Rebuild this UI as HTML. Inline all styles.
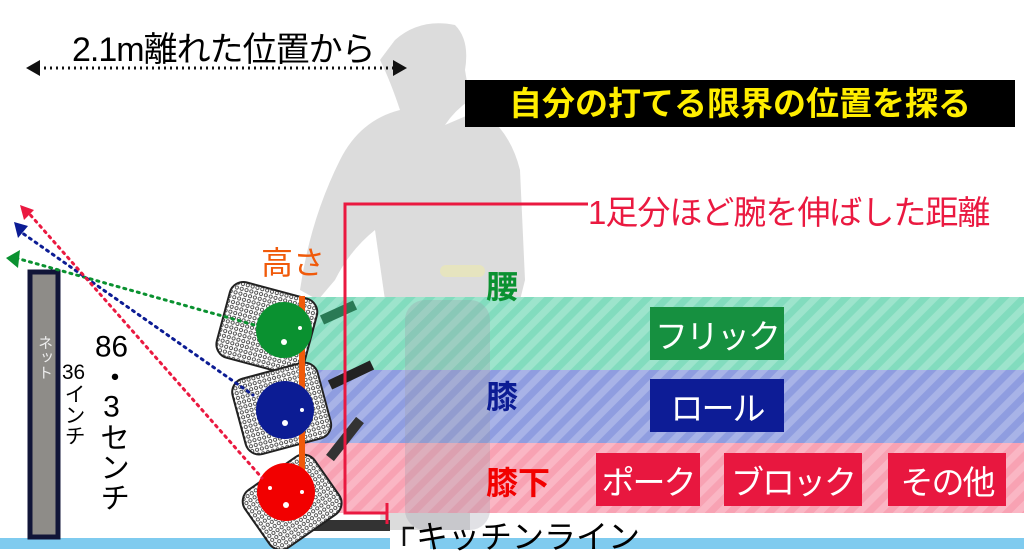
<!DOCTYPE html>
<html><head><meta charset="utf-8"><style>
body{margin:0;width:1024px;height:549px;overflow:hidden;background:#fff;font-family:"Liberation Sans","Noto Sans CJK JP",sans-serif;position:relative}
.a{position:absolute;white-space:nowrap}
.box{position:absolute;color:#fff;font-size:33px;display:flex;align-items:center;justify-content:center;white-space:nowrap;letter-spacing:-2px}
.u{text-combine-upright:all}
</style></head><body>
<svg class="a" style="left:0;top:0" width="1024" height="549">
<defs>
<pattern id="st" width="14" height="14" patternUnits="userSpaceOnUse" patternTransform="rotate(45)">
<rect width="7" height="14" fill="rgba(255,255,255,0.22)"/></pattern>
<pattern id="mesh" width="5" height="5" patternUnits="userSpaceOnUse"><rect width="5" height="5" fill="#fff"/><circle cx="2.5" cy="2.5" r="1.6" fill="none" stroke="#333" stroke-width="0.8"/></pattern>
</defs>
<g fill="#d6d6d6" opacity="0.85">
<path d="M395,40 Q420,18 455,25 Q470,40 465,70 L470,100 Q455,110 445,125 L480,110 Q510,130 520,170 L525,280 L520,300 L470,300 L470,330 L470,530 L380,530 L385,300 L375,230 Q350,250 335,280 L318,300 L300,290 Q310,220 340,160 Q360,120 400,110 Q390,80 380,60 Z"/>
</g>
<rect x="440" y="265" width="45" height="12" rx="6" fill="#e8e6b8" opacity="0.8"/>
<rect x="305" y="297" width="719" height="73" fill="#82dcbe"/>
<rect x="305" y="370" width="719" height="73" fill="#8f9de0"/>
<rect x="305" y="443" width="719" height="70" fill="#f8a2b3"/>
<rect x="305" y="297" width="719" height="216" fill="url(#st)"/>
<g fill="#9a9aaa" opacity="0.3"><rect x="405" y="300" width="85" height="230" rx="20"/></g>
<rect x="0" y="538" width="1024" height="11" fill="#7fcbef"/>
<rect x="390" y="530" width="40" height="19" fill="#fff"/>
<rect x="300" y="520" width="90" height="11" fill="#333"/>
<rect x="30" y="272" width="28" height="265" fill="#8e8c88" stroke="#111538" stroke-width="5"/>
<line x1="38" y1="68" x2="395" y2="68" stroke="#111" stroke-width="3" stroke-dasharray="2,4"/>
<path d="M26,68 L40,60 L40,76Z M407,68 L393,60 L393,76Z" fill="#111"/>
<g stroke="#222" stroke-width="2">
<g transform="rotate(15 270 328)"><rect x="222" y="290" width="90" height="78" rx="14" fill="url(#mesh)"/></g>
<path d="M322,320 L355,305" stroke="#2a7a55" stroke-width="10"/>
<g transform="rotate(-15 280 410)"><rect x="238" y="370" width="88" height="78" rx="14" fill="url(#mesh)"/></g>
<path d="M330,385 L372,365" stroke="#222" stroke-width="10"/>
<g transform="rotate(-35 290 500)"><rect x="248" y="468" width="85" height="70" rx="14" fill="url(#mesh)"/></g>
<path d="M330,458 L360,420" stroke="#333" stroke-width="10"/>
</g>
<rect x="299" y="296" width="6" height="186" fill="#f05a0a"/>
<circle cx="284" cy="330" r="28" fill="#0a9130"/>
<circle cx="285" cy="410" r="29" fill="#0c1c94"/>
<circle cx="286" cy="492" r="29" fill="#f20000"/>
<g fill="#fff"><circle cx="284" cy="342" r="3"/><circle cx="300" cy="328" r="2"/><circle cx="285" cy="423" r="3"/><circle cx="302" cy="410" r="2"/><circle cx="286" cy="505" r="3"/><circle cx="302" cy="492" r="2"/><circle cx="270" cy="488" r="2"/></g>
<line x1="16" y1="258" x2="258" y2="326" stroke="#0a9130" stroke-width="3" stroke-dasharray="2,5" stroke-linecap="round"/>
<line x1="18" y1="230" x2="253" y2="395" stroke="#0c1c94" stroke-width="3" stroke-dasharray="2,5" stroke-linecap="round"/>
<line x1="26" y1="210" x2="262" y2="478" stroke="#ea1940" stroke-width="3" stroke-dasharray="2,5" stroke-linecap="round"/>
<path d="M6,258 L20,250 L18,268Z" fill="#0a9130"/>
<path d="M14,222 L28,226 L18,238Z" fill="#0c1c94"/>
<path d="M20,205 L34,210 L24,220Z" fill="#ea1940"/>
<path d="M588,204 L345,204 L345,513 L387,513" fill="none" stroke="#ea1940" stroke-width="3"/>
<line x1="387" y1="503" x2="387" y2="524" stroke="#ea1940" stroke-width="3"/>
<path d="M404,546 L404,528 L414,528" fill="none" stroke="#111" stroke-width="2.5"/>
</svg>
<div class="a" style="left:72px;top:22px;font-size:34px;letter-spacing:-1px">2.1m離れた位置から</div>
<div class="a" style="left:465px;top:80px;width:550px;height:47px;background:#000"></div>
<div class="a" style="left:465px;top:80px;width:550px;height:47px;line-height:47px;text-align:center;color:#ffee00;font-size:33px;font-weight:bold">自分の打てる限界の位置を探る</div>
<div class="a" style="left:588px;top:186px;font-size:33px;color:#ea1940;letter-spacing:-1px">1足分ほど腕を伸ばした距離</div>
<div class="a" style="left:261px;top:238px;font-size:32px;color:#f05a0a">高さ</div>
<div class="a" style="left:486px;top:262px;font-size:32px;font-weight:bold;color:#0a9130">腰</div>
<div class="a" style="left:486px;top:372px;font-size:32px;font-weight:bold;color:#0c1c94">膝</div>
<div class="a" style="left:486px;top:458px;font-size:32px;font-weight:bold;color:#f20000">膝下</div>
<div class="a" style="left:34px;top:335px;font-size:15px;color:#eee;writing-mode:vertical-rl">ネット</div>
<div class="a" style="left:96px;top:332px;font-size:30px;writing-mode:vertical-rl;line-height:30px"><span class="u">86</span>・<span class="u">3</span>センチ</div>
<div class="a" style="left:62px;top:362px;font-size:21px;writing-mode:vertical-rl;line-height:22px"><span class="u">36</span>インチ</div>
<div class="box" style="left:650px;top:307px;width:134px;height:53px;background:#169040">フリック</div>
<div class="box" style="left:650px;top:379px;width:134px;height:53px;background:#0d1c96">ロール</div>
<div class="box" style="left:596px;top:453px;width:104px;height:53px;background:#e8173f">ポーク</div>
<div class="box" style="left:724px;top:453px;width:138px;height:53px;background:#e8173f">ブロック</div>
<div class="box" style="left:888px;top:453px;width:118px;height:53px;background:#e8173f">その他</div>
<div class="a" style="left:416px;top:512px;font-size:32px">キッチンライン</div>
</body></html>
